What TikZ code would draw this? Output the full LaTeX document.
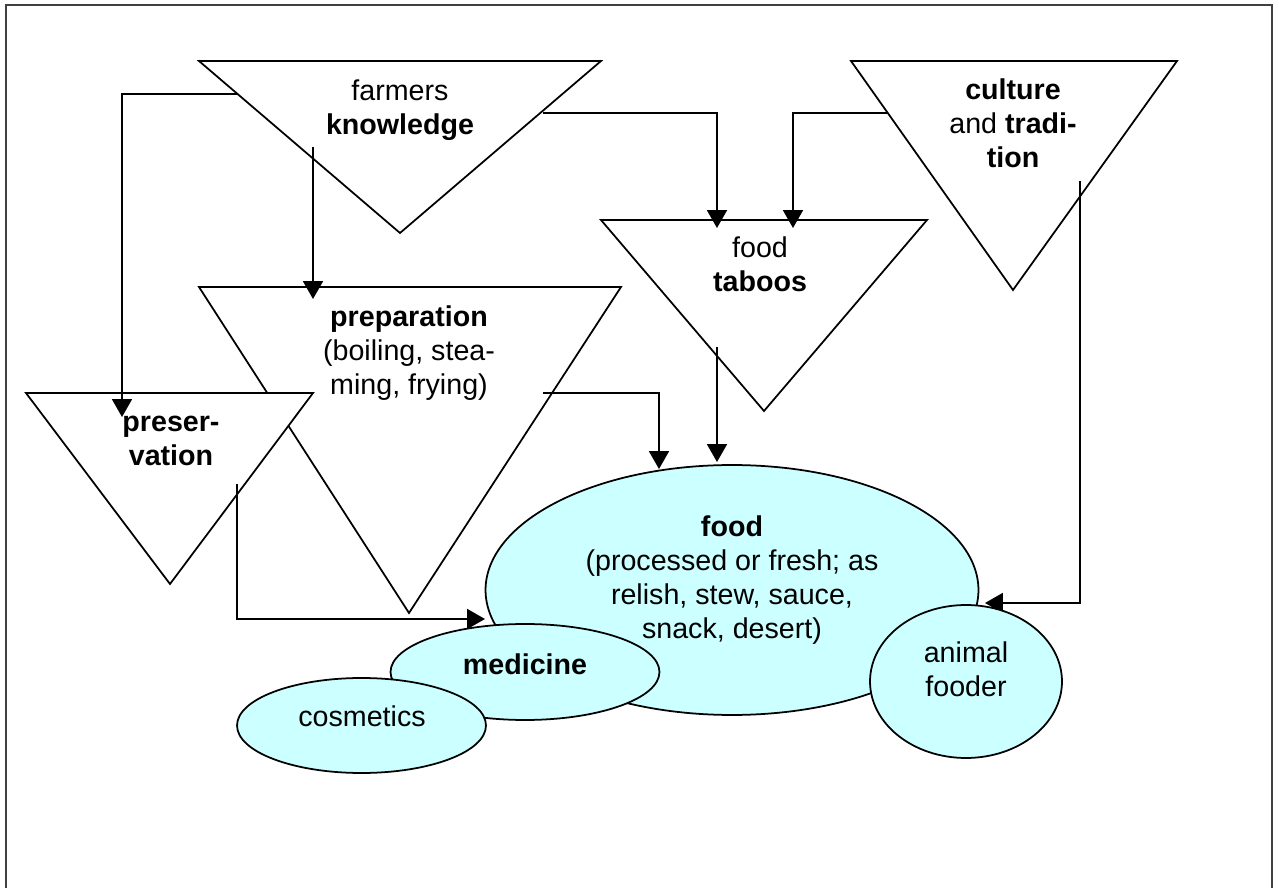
\documentclass[tikz,border=0pt]{standalone}
\usepackage{fontspec}
\setmainfont{Liberation Sans}
\usetikzlibrary{arrows.meta,shapes.geometric}
\definecolor{iceblue}{HTML}{CCFFFF}
\definecolor{framegray}{HTML}{404040}
\begin{document}
\begin{tikzpicture}[x=0.02cm,y=-0.02cm,
  wedge/.style={draw=black,fill=white,line width=1pt},
  link/.style={draw=black,line width=1pt,-{Triangle[length=10.2pt,width=11.4pt]}},
  blob/.style={draw=black,fill=iceblue,line width=1pt,ellipse,inner sep=0pt},
  txt/.style={align=center,inner sep=0pt,font=\fontsize{16.3}{19.35}\selectfont}]

\useasboundingbox (0,0) rectangle (1279,888);

% page frame, open at the bottom
\draw[framegray,line width=1.1pt] (6,888) -- (6,5) -- (1272,5) -- (1272,888);

% downward triangles
\coordinate (fk1) at (199,61);  \coordinate (fk2) at (601,61);  \coordinate (fk3) at (400,233);
\coordinate (ct1) at (851,61);  \coordinate (ct2) at (1177,61); \coordinate (ct3) at (1013,290);
\coordinate (tb1) at (601,220); \coordinate (tb2) at (927,220); \coordinate (tb3) at (764,411);
\coordinate (pp1) at (199,287); \coordinate (pp2) at (621,287); \coordinate (pp3) at (409,613);
\coordinate (pv1) at (26,393);  \coordinate (pv2) at (313,393); \coordinate (pv3) at (170,584);

\draw[wedge] (fk1) -- (fk2) -- (fk3) -- cycle;
\draw[wedge] (ct1) -- (ct2) -- (ct3) -- cycle;
\draw[wedge] (tb1) -- (tb2) -- (tb3) -- cycle;
\draw[wedge] (pp1) -- (pp2) -- (pp3) -- cycle;
\draw[wedge] (pv1) -- (pv2) -- (pv3) -- cycle;

% triangle labels
\node[txt] (fk) at (400,110.7) {\strut farmers\\\strut\textbf{knowledge}};
\node[txt] (ct) at (1013,126.5) {\strut\textbf{culture}\\\strut and \textbf{tradi-}\\\strut\textbf{tion}};
\node[txt] (tb) at (760,268) {\strut food\\\strut\textbf{taboos}};
\node[txt] (pp) at (409,354) {\strut\textbf{preparation}\\\strut(boiling, stea-\\\strut ming, frying)};
\node[txt] (pv) at (171,442) {\strut\textbf{preser-}\\\strut\textbf{vation}};

% connector end points
\coordinate (fkW) at (237,94);   \coordinate (pvN) at (122,417);
\coordinate (fkS) at (313,147);  \coordinate (ppN) at (313,299);
\coordinate (fkE) at (543,113);  \coordinate (tbN1) at (717,228);
\coordinate (ctW) at (888,113);  \coordinate (tbN2) at (793,228);
\coordinate (ctS) at (1080,181); \coordinate (afN) at (985,603);
\coordinate (ppE) at (543,393);  \coordinate (fdN1) at (659,469);
\coordinate (tbS) at (717,347);  \coordinate (fdN2) at (717,462);
\coordinate (pvS) at (237,484);  \coordinate (fdW) at (485,619);

\draw[link] (fkW) -| (pvN);
\draw[link] (fkS) -- (ppN);
\draw[link] (fkE) -| (tbN1);
\draw[link] (ctW) -| (tbN2);
\draw[link] (ctS) |- (afN);
\draw[link] (ppE) -| (fdN1);
\draw[link] (tbS) -- (fdN2);
\draw[link] (pvS) |- (fdW);

% uses
\node[blob,minimum width=9.86cm,minimum height=5cm] (food) at (732,590) {};
\node[blob,minimum width=5.38cm,minimum height=1.92cm] (med) at (525,672) {};
\node[blob,minimum width=4.98cm,minimum height=1.9cm] (cos) at (361.5,725.5) {};
\node[blob,minimum width=3.84cm,minimum height=3.06cm] (anim) at (966,681.5) {};

\node[txt] (foodtxt) at (732,580.7) {\strut\textbf{food}\\\strut(processed or fresh; as\\\strut relish, stew, sauce,\\\strut snack, desert)};
\node[txt] (medtxt) at (525,668) {\strut\textbf{medicine}};
\node[txt] (costxt) at (362,720) {\strut cosmetics};
\node[txt] (animtxt) at (966,673) {\strut animal\\\strut fooder};
\end{tikzpicture}
\end{document}
